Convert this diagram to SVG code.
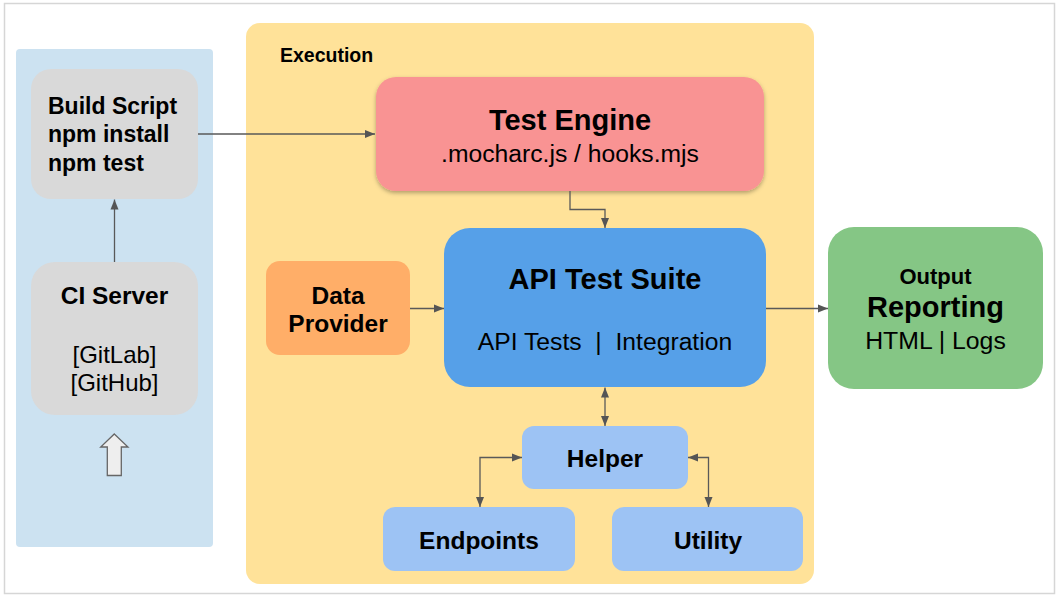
<svg xmlns="http://www.w3.org/2000/svg" width="1059" height="599" viewBox="0 0 1059 599">
<defs>
<marker id="ah" viewBox="0 0 10 10" refX="10" refY="5" markerWidth="10" markerHeight="10" markerUnits="userSpaceOnUse" orient="auto-start-reverse"><path d="M0,1 L10,5 L0,9 Z" fill="#555"/></marker>
<filter id="sh" x="-10%" y="-10%" width="120%" height="130%"><feDropShadow dx="0" dy="2" stdDeviation="2" flood-color="#000" flood-opacity="0.3"/></filter>
</defs>
<style>
text{font-family:"Liberation Sans",Arial,sans-serif;fill:#000;text-anchor:middle}
.b{font-weight:bold}
.s{text-anchor:start}
.c{fill:none;stroke:#595959;stroke-width:1.3}
</style>
<rect x="0" y="0" width="1059" height="599" fill="#fff"/>
<rect x="4.5" y="3.5" width="1050" height="590" fill="#fff" stroke="#d6d6d6" stroke-width="1.5"/>
<g id="ci-panel"><rect x="16" y="49" width="197" height="498" rx="4" fill="#cce2f1"/></g>
<g id="execution"><rect x="246" y="23" width="568" height="561" rx="14" fill="#ffe299"/><text x="280" y="62" class="b s" font-size="19.5">Execution</text></g>
<g id="build-script"><rect x="31" y="69" width="167" height="130" rx="20" fill="#d9d9d9"/>
<text x="48" y="114" class="b s" font-size="23">Build Script</text>
<text x="48" y="142" class="b s" font-size="23">npm install</text>
<text x="48" y="171" class="b s" font-size="23">npm test</text></g>
<g id="ci-server"><rect x="31" y="262" width="167" height="153" rx="24" fill="#d9d9d9"/>
<text x="114.5" y="304" class="b" font-size="24.5">CI Server</text>
<text x="114.5" y="363" font-size="24">[GitLab]</text>
<text x="114.5" y="391" font-size="24">[GitHub]</text></g>
<g id="trigger"><path d="M114.3,434 L128,447 L121.3,447 L121.3,475.5 L107.3,475.5 L107.3,447 L100.7,447 Z" fill="#eeeeee" stroke="#666" stroke-width="1.3"/></g>
<g id="test-engine"><rect x="376" y="77" width="388" height="114" rx="20" fill="#f99393" filter="url(#sh)"/>
<text x="570" y="130" class="b" font-size="29">Test Engine</text>
<text x="570" y="162" font-size="24.7">.mocharc.js / hooks.mjs</text></g>
<g id="api-suite"><rect x="444" y="228" width="322" height="159" rx="26" fill="#56a0e8"/>
<text x="605" y="289" class="b" font-size="29">API Test Suite</text>
<text x="605" y="350" font-size="24.7" xml:space="preserve">API Tests  |  Integration</text></g>
<g id="data-provider"><rect x="266" y="261" width="144" height="94" rx="14" fill="#ffae68"/>
<text x="338" y="304" class="b" font-size="24.5">Data</text>
<text x="338" y="332" class="b" font-size="24.5">Provider</text></g>
<g id="helper"><rect x="522" y="426" width="166" height="63" rx="12" fill="#9dc3f4"/>
<text x="605" y="467" class="b" font-size="24.5">Helper</text></g>
<g id="endpoints"><rect x="383" y="507" width="192" height="64" rx="12" fill="#9dc3f4"/>
<text x="479" y="549" class="b" font-size="24.5">Endpoints</text></g>
<g id="utility"><rect x="612" y="507" width="191" height="64" rx="12" fill="#9dc3f4"/>
<text x="708" y="549" class="b" font-size="24.5">Utility</text></g>
<g id="output"><rect x="828" y="227" width="215" height="162" rx="26" fill="#85c685"/>
<text x="935.5" y="284" class="b" font-size="22">Output</text>
<text x="935.5" y="317" class="b" font-size="29">Reporting</text>
<text x="935.5" y="349" font-size="24.8">HTML | Logs</text></g>
<g id="connectors">
<path class="c" d="M198,134 L375,134" marker-end="url(#ah)"/>
<path class="c" d="M114.5,262 L114.5,199.5" marker-end="url(#ah)"/>
<path class="c" d="M570,191 L570,209.5 L605,209.5 L605,228" marker-end="url(#ah)"/>
<path class="c" d="M410,308.5 L444,308.5" marker-end="url(#ah)"/>
<path class="c" d="M766,308.5 L828,308.5" marker-end="url(#ah)"/>
<path class="c" d="M605,387.5 L605,426" marker-start="url(#ah)" marker-end="url(#ah)"/>
<path class="c" d="M480,507 L480,457.5 L522,457.5" marker-start="url(#ah)" marker-end="url(#ah)"/>
<path class="c" d="M708.5,507 L708.5,457.5 L688,457.5" marker-start="url(#ah)" marker-end="url(#ah)"/>
</g>
</svg>
